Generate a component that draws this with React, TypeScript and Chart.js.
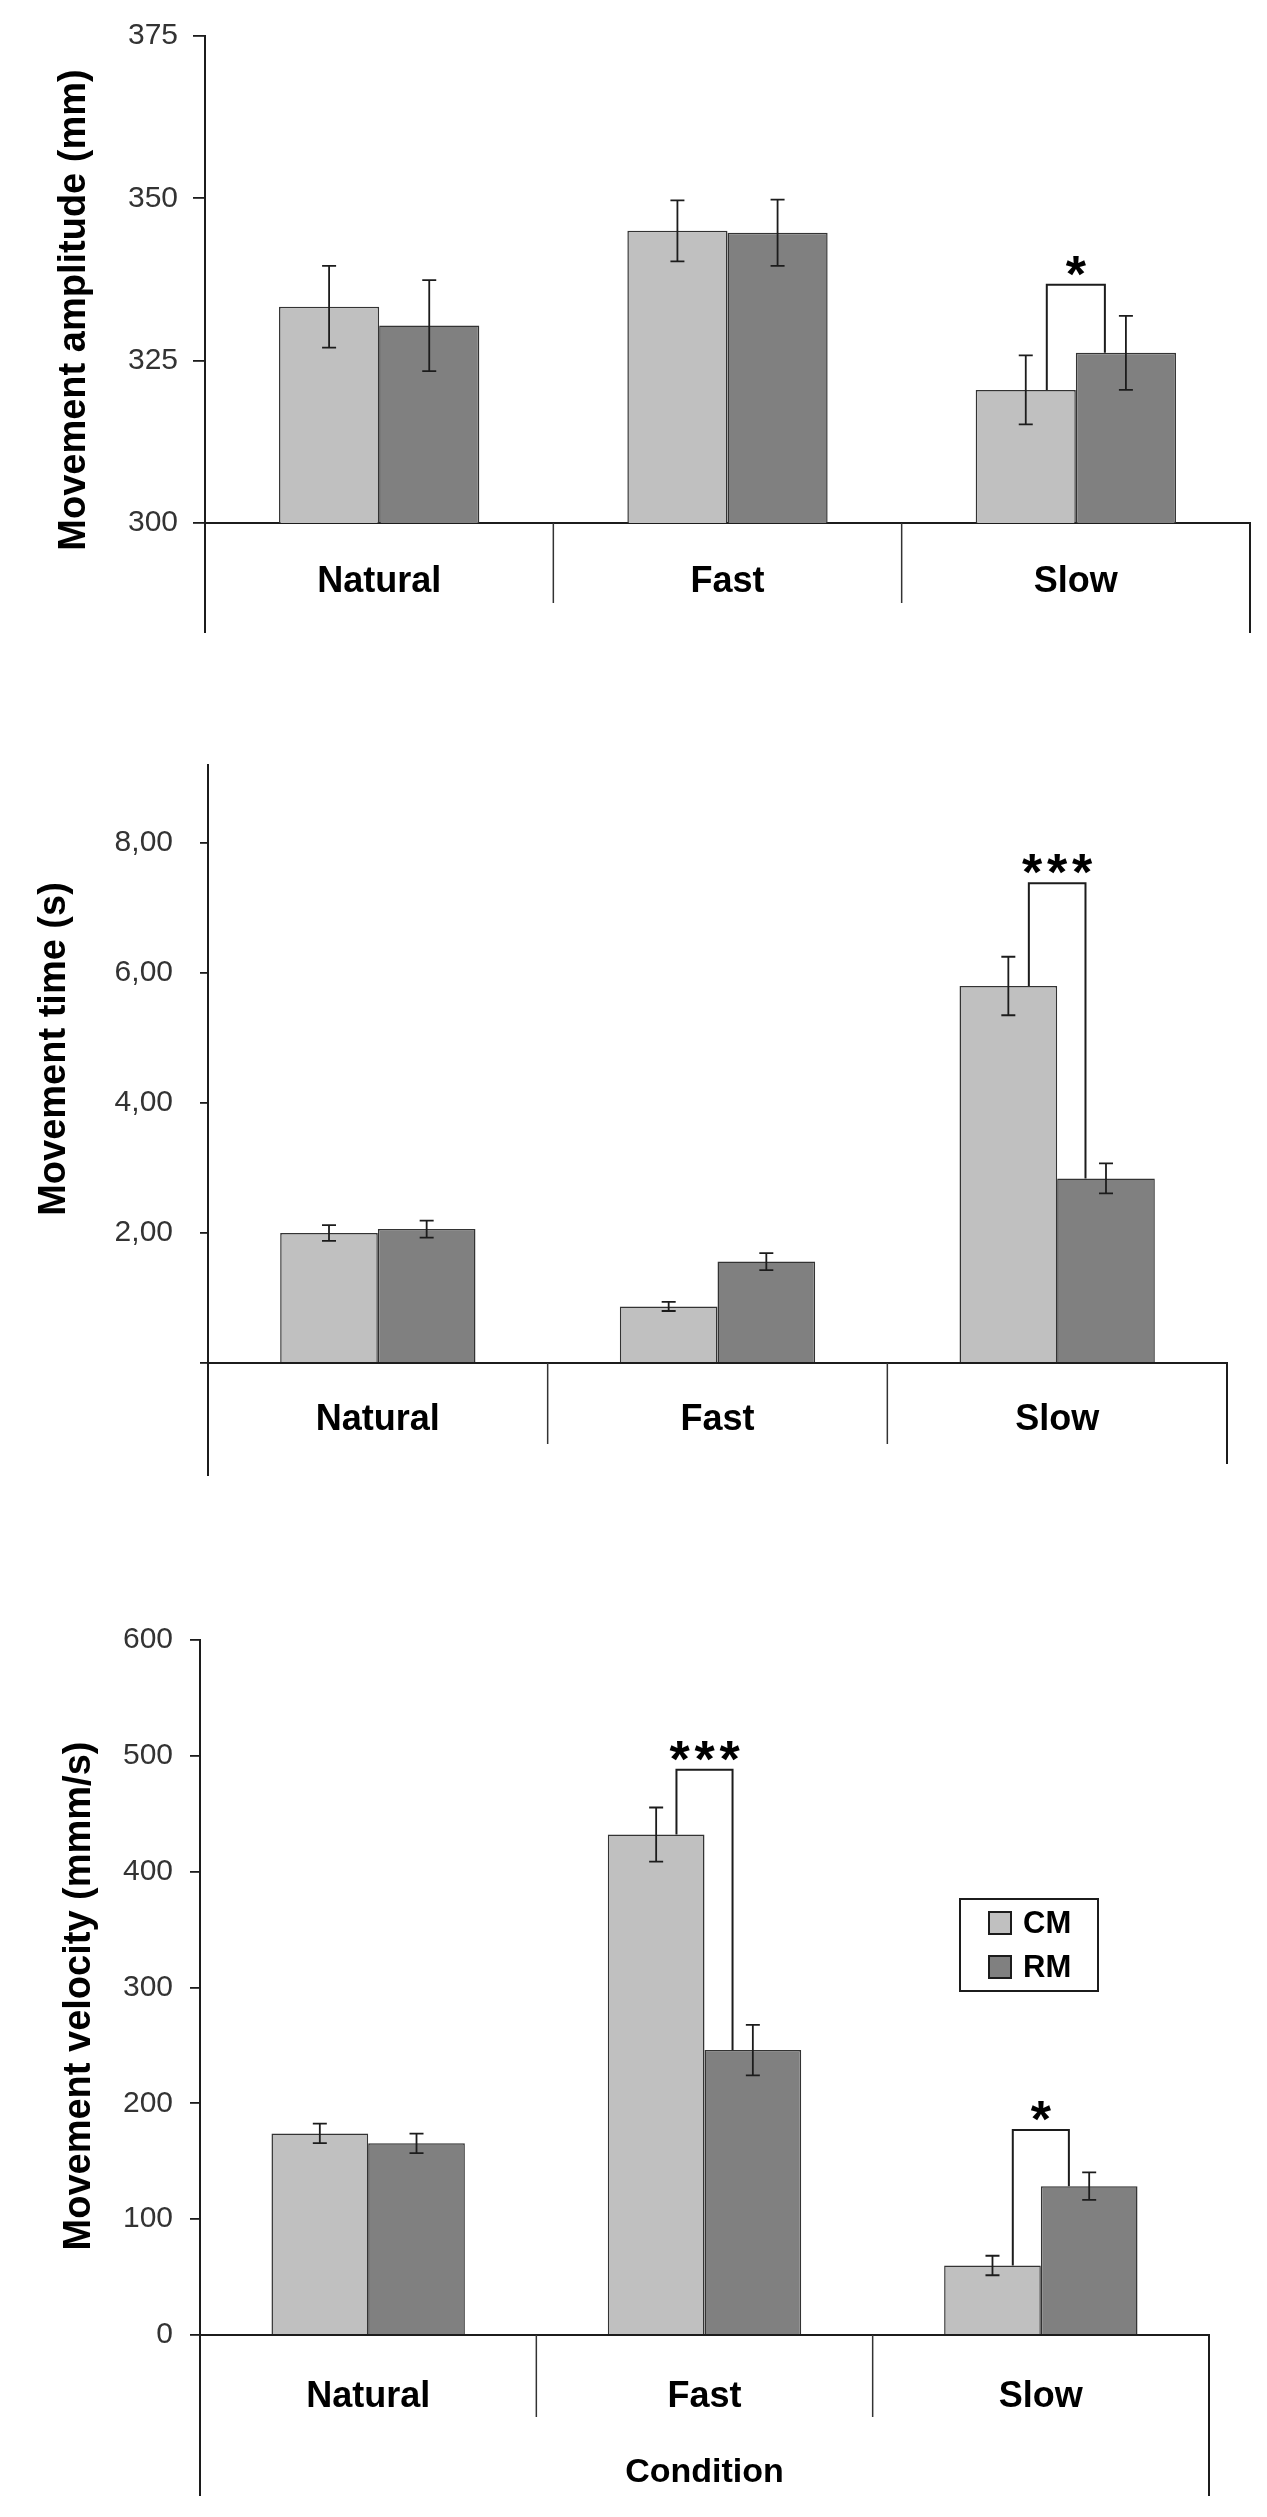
import React, { useEffect, useRef } from "react"
import { Chart, registerables } from "chart.js"

Chart.register(...registerables)

const FONT = "'Liberation Sans', Arial, Helvetica, sans-serif"
const CM_COLOR = "#c0c0c0"
const RM_COLOR = "#808080"
const INK = "#1c1c1c"

// data
const categories = ["Natural", "Fast", "Slow"]
const seriesNames = ["CM", "RM"]

const amplitudeCM = [333.3, 345.0, 320.5]
const amplitudeCMErr = [6.3, 4.7, 5.3]
const amplitudeRM = [330.4, 344.7, 326.2]
const amplitudeRMErr = [7.0, 5.1, 5.7]
const amplitudeTicks = [300, 325, 350, 375]
const amplitudeSig = [{ index: 2, top: 336.7, stars: "*" }]

const timeCM = [2.0, 0.87, 5.8]
const timeCMErr = [0.12, 0.07, 0.45]
const timeRM = [2.06, 1.56, 2.84]
const timeRMErr = [0.13, 0.13, 0.23]
const timeTicks = [0, 2, 4, 6, 8]
const timeSig = [{ index: 2, top: 7.38, stars: "***" }]

const velocityCM = [174, 432, 60]
const velocityCMErr = [8.4, 23.4, 8.4]
const velocityRM = [165.5, 246, 128.5]
const velocityRMErr = [8.4, 21.8, 11.9]
const velocityTicks = [0, 100, 200, 300, 400, 500, 600]
const velocitySig = [
  { index: 1, top: 488, stars: "***" },
  { index: 2, top: 177, stars: "*" },
]

type Sig = { index: number; top: number; stars: string }

type PanelSpec = {
  title: string
  cm: number[]
  cmErr: number[]
  rm: number[]
  rmErr: number[]
  min: number
  max: number
  ticks: number[]
  fmt: (v: number) => string
  sig: Sig[]
  legend: boolean
  xTitle: string
  // layout (page pixels)
  top: number
  height: number
  areaTop: number
  areaBottom: number
  areaLeft: number
  areaRight: number
  tickLen: number
  tickPad: number
  catPad: number
  titleX: number
  titleY: number
  dividerLen: number
  leftLen: number
  rightLen: number
}

const panels: PanelSpec[] = [
  {
    title: "Movement amplitude (mm)",
    cm: amplitudeCM, cmErr: amplitudeCMErr, rm: amplitudeRM, rmErr: amplitudeRMErr,
    min: 300, max: 375, ticks: amplitudeTicks, fmt: (v) => String(v),
    sig: amplitudeSig, legend: false, xTitle: "",
    top: 0, height: 720, areaTop: 36, areaBottom: 523, areaLeft: 205, areaRight: 1250,
    tickLen: 12, tickPad: 15, catPad: 37, titleX: 75, titleY: 310,
    dividerLen: 80, leftLen: 110, rightLen: 110,
  },
  {
    title: "Movement time (s)",
    cm: timeCM, cmErr: timeCMErr, rm: timeRM, rmErr: timeRMErr,
    min: 0, max: 9.2, ticks: timeTicks,
    fmt: (v) => (v === 0 ? "" : v.toFixed(2).replace(".", ",")),
    sig: timeSig, legend: false, xTitle: "",
    top: 720, height: 840, areaTop: 27, areaBottom: 643, areaLeft: 208, areaRight: 1227,
    tickLen: 8, tickPad: 27, catPad: 35, titleX: 55, titleY: 329,
    dividerLen: 81, leftLen: 113, rightLen: 101,
  },
  {
    title: "Movement velocity (mmm/s)",
    cm: velocityCM, cmErr: velocityCMErr, rm: velocityRM, rmErr: velocityRMErr,
    min: 0, max: 600, ticks: velocityTicks, fmt: (v) => String(v),
    sig: velocitySig, legend: true, xTitle: "Condition",
    top: 1560, height: 957, areaTop: 80, areaBottom: 775, areaLeft: 200, areaRight: 1209,
    tickLen: 10, tickPad: 17, catPad: 40, titleX: 80, titleY: 436,
    dividerLen: 82, leftLen: 161, rightLen: 161,
  },
]

function makeOverlay(p: PanelSpec) {
  return {
    id: "overlay",
    afterDatasetsDraw(chart: any) {
      const { ctx, chartArea } = chart
      const xs = chart.scales.x
      const ys = chart.scales.y
      const metas = [chart.getDatasetMeta(0), chart.getDatasetMeta(1)]
      const vals = [p.cm, p.rm]
      const errs = [p.cmErr, p.rmErr]
      ctx.save()

      // error bars
      ctx.strokeStyle = INK
      ctx.lineWidth = 1.8
      metas.forEach((meta: any, d: number) => {
        meta.data.forEach((bar: any, i: number) => {
          const hi = ys.getPixelForValue(vals[d][i] + errs[d][i])
          const lo = ys.getPixelForValue(vals[d][i] - errs[d][i])
          ctx.beginPath()
          ctx.moveTo(bar.x, hi)
          ctx.lineTo(bar.x, lo)
          ctx.moveTo(bar.x - 7, hi)
          ctx.lineTo(bar.x + 7, hi)
          ctx.moveTo(bar.x - 7, lo)
          ctx.lineTo(bar.x + 7, lo)
          ctx.stroke()
        })
      })

      // significance brackets
      p.sig.forEach((s) => {
        const a = metas[0].data[s.index]
        const b = metas[1].data[s.index]
        const w = a.width
        const lx = a.x + 0.21 * w
        const rx = b.x - 0.21 * w
        const ty = ys.getPixelForValue(s.top)
        ctx.strokeStyle = INK
        ctx.lineWidth = 2
        ctx.beginPath()
        ctx.moveTo(lx, a.y)
        ctx.lineTo(lx, ty)
        ctx.lineTo(rx, ty)
        ctx.lineTo(rx, b.y)
        ctx.stroke()
        ctx.fillStyle = "#000"
        ctx.font = `bold 52px ${FONT}`
        ctx.textAlign = "center"
        ctx.textBaseline = "alphabetic"
        const cx = (lx + rx) / 2
        const n = s.stars.length
        for (let k = 0; k < n; k++) {
          ctx.fillText("*", cx + (k - (n - 1) / 2) * 25, ty + 7)
        }
      })

      // lines under the axis
      const base = chartArea.bottom
      ctx.strokeStyle = "#333"
      ctx.lineWidth = 1.5
      for (let k = 1; k < categories.length; k++) {
        const px = xs.getPixelForValue(k - 0.5)
        ctx.beginPath()
        ctx.moveTo(px, base)
        ctx.lineTo(px, base + p.dividerLen)
        ctx.stroke()
      }
      ctx.strokeStyle = INK
      ctx.lineWidth = 2
      ctx.beginPath()
      ctx.moveTo(chartArea.left, base)
      ctx.lineTo(chartArea.left, base + p.leftLen)
      ctx.moveTo(chartArea.right, base)
      ctx.lineTo(chartArea.right, base + p.rightLen)
      ctx.stroke()

      // axis titles
      ctx.fillStyle = "#000"
      ctx.save()
      ctx.translate(p.titleX, p.titleY)
      ctx.rotate(-Math.PI / 2)
      ctx.font = `bold 38px ${FONT}`
      ctx.textAlign = "center"
      ctx.textBaseline = "middle"
      ctx.fillText(p.title, 0, 0)
      ctx.restore()

      if (p.xTitle) {
        ctx.font = `bold 34px ${FONT}`
        ctx.textAlign = "center"
        ctx.textBaseline = "middle"
        ctx.fillText(p.xTitle, (chartArea.left + chartArea.right) / 2, base + 138)
      }

      // legend box
      if (p.legend) {
        const lx = chartArea.right - 249
        const ly = chartArea.top + 259
        ctx.fillStyle = "#fff"
        ctx.fillRect(lx, ly, 138, 92)
        ctx.strokeStyle = INK
        ctx.lineWidth = 2
        ctx.strokeRect(lx, ly, 138, 92)
        const colors = [CM_COLOR, RM_COLOR]
        seriesNames.forEach((name, i) => {
          const sy = ly + 13 + i * 44
          ctx.fillStyle = colors[i]
          ctx.fillRect(lx + 29, sy, 22, 22)
          ctx.strokeStyle = INK
          ctx.lineWidth = 2
          ctx.strokeRect(lx + 29, sy, 22, 22)
          ctx.fillStyle = "#000"
          ctx.font = `bold 31px ${FONT}`
          ctx.textAlign = "left"
          ctx.textBaseline = "middle"
          ctx.fillText(name, lx + 63, sy + 12)
        })
      }
      ctx.restore()
    },
  }
}

function BarPanel({ p }: { p: PanelSpec }) {
  const canvasRef = useRef<HTMLCanvasElement>(null)

  useEffect(() => {
    if (!canvasRef.current) return
    const chart = new Chart(canvasRef.current, {
      type: "bar",
      data: {
        labels: categories,
        datasets: [
          {
            label: seriesNames[0],
            data: p.cm,
            backgroundColor: CM_COLOR,
            borderColor: "#333",
            borderWidth: 1.5,
            categoryPercentage: 0.575,
            barPercentage: 1,
          },
          {
            label: seriesNames[1],
            data: p.rm,
            backgroundColor: RM_COLOR,
            borderColor: "#333",
            borderWidth: 1.5,
            categoryPercentage: 0.575,
            barPercentage: 1,
          },
        ],
      },
      options: {
        animation: false,
        responsive: false,
        maintainAspectRatio: false,
        layout: {
          padding: { top: p.areaTop, left: 0, right: 1267 - p.areaRight, bottom: 0 },
        },
        plugins: {
          legend: { display: false },
          tooltip: { enabled: false },
        },
        scales: {
          x: {
            type: "category",
            offset: true,
            grid: { display: false, drawTicks: false },
            border: { display: true, color: INK, width: 2 },
            ticks: {
              color: "#000",
              font: { family: FONT, size: 36, weight: "bold" },
              padding: p.catPad,
              maxRotation: 0,
              autoSkip: false,
            },
            afterFit: (s: any) => {
              s.height = p.height - p.areaBottom
            },
          },
          y: {
            type: "linear",
            min: p.min,
            max: p.max,
            grid: {
              drawOnChartArea: false,
              drawTicks: true,
              tickLength: p.tickLen,
              color: INK,
              lineWidth: 1.8,
            },
            border: { display: true, color: INK, width: 2 },
            ticks: {
              color: "#333",
              font: { family: FONT, size: 30 },
              padding: p.tickPad,
              callback: (v: any) => p.fmt(Number(v)),
            },
            afterBuildTicks: (s: any) => {
              s.ticks = p.ticks.map((v) => ({ value: v }))
            },
            afterFit: (s: any) => {
              s.width = p.areaLeft
            },
          },
        },
      },
      plugins: [makeOverlay(p)],
    } as any)
    return () => chart.destroy()
  }, [p])

  return (
    <canvas
      ref={canvasRef}
      width={1267}
      height={p.height}
      style={{ position: "absolute", left: 0, top: p.top, display: "block" }}
    />
  )
}

export default function App() {
  return (
    <div
      style={{
        position: "absolute",
        left: 0,
        top: 0,
        width: 1267,
        height: 2517,
        background: "#fff",
        overflow: "hidden",
      }}
    >
      {panels.map((p) => (
        <BarPanel key={p.title} p={p} />
      ))}
    </div>
  )
}
